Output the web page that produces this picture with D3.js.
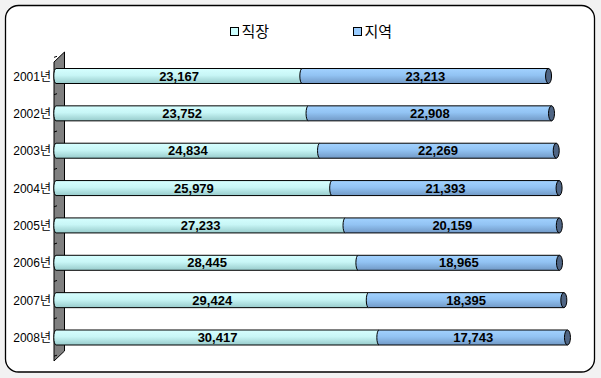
<!DOCTYPE html>
<html><head><meta charset="utf-8">
<script src="https://cdn.jsdelivr.net/npm/d3@7"></script>
<style>
html,body{margin:0;padding:0;background:#f2f2f2;}
svg{display:block;}
</style></head>
<body>
<svg id="chart" width="601" height="378"></svg>
<script>
const years = ["2001년","2002년","2003년","2004년","2005년","2006년","2007년","2008년"];
const seriesNames = ["직장","지역"];
const workplace = [23167,23752,24834,25979,27233,28445,29424,30417];
const regional = [23213,22908,22269,21393,20159,18965,18395,17743];

const svg = d3.select("#chart");
const defs = svg.append("defs");
function grad(id, stops){
  const g = defs.append("linearGradient").attr("id",id).attr("x1",0).attr("y1",0).attr("x2",0).attr("y2",1);
  stops.forEach(s=>g.append("stop").attr("offset",s[0]).attr("stop-color",s[1]));
}
grad("gW",[[0,"#d6ffff"],[0.45,"#c8f6f6"],[1,"#97cbcb"]]);
grad("gR",[[0,"#a2d2ff"],[0.45,"#92c3f3"],[1,"#7199c6"]]);
const fills = ["url(#gW)","url(#gR)"];
const legendFills = ["#ccffff","#99ccff"];

// frame
svg.append("rect").attr("x",5.5).attr("y",5.5).attr("width",589).attr("height",366.5)
  .attr("rx",13).attr("fill","#fff").attr("stroke","#000").attr("stroke-width",1.3);

const x = d3.scaleLinear().domain([0,50000]).range([56,587]);
const y = d3.scalePoint().domain(years).range([76,337.5]);
const step = y.step();
const bh = 15;

// wall
const wallPts = [[54,62],[64.5,52],[64.5,351],[54,361]];
svg.append("path").attr("d", d3.line()(wallPts)+"Z").attr("fill","#808080").attr("stroke","#000").attr("stroke-width",1);
// ticks at category boundaries
const bounds = [y(years[0])-step/2].concat(years.map(d=>y(d)+step/2));
svg.selectAll("line.tick").data(bounds).enter().append("line")
  .attr("x1",54).attr("x2",57).attr("y1",d=>d+(54-54)).attr("y2",d=>d-1)
  .attr("stroke","#000").attr("stroke-width",1);

// y labels
svg.selectAll("text.ylab").data(years).enter().append("text")
  .attr("x",51).attr("y",d=>y(d)+4.5).attr("text-anchor","end")
  .attr("font-family","'Liberation Sans','Noto Sans CJK KR',sans-serif").attr("font-size",12).attr("fill","#000")
  .text(d=>d);

// bars
const rows = years.map((yr,i)=>({yr, vals:[workplace[i],regional[i]]}));
const rx = 2.2;
rows.forEach(r=>{
  const cy = y(r.yr), top = cy-bh/2, bot = cy+bh/2;
  let acc = 0;
  r.vals.forEach((v,k)=>{
    const xa = x(acc), xb = x(acc+v);
    acc += v;
    const d = `M${xa},${top} L${xb},${top} L${xb},${bot} L${xa},${bot} A${rx},${bh/2} 0 0 1 ${xa},${top} Z`;
    svg.append("path").attr("d",d).attr("fill",fills[k]).attr("stroke","#000").attr("stroke-width",1);
    svg.append("text").attr("x",(xa+xb)/2).attr("y",cy+4.6).attr("text-anchor","middle")
      .attr("font-family","'Liberation Sans',Arial,sans-serif").attr("font-weight","bold").attr("font-size",13)
      .attr("fill","#000").text(d3.format(",")(v));
    if(k===r.vals.length-1){
      svg.append("ellipse").attr("cx",xb).attr("cy",cy).attr("rx",3).attr("ry",bh/2)
        .attr("fill","#4f6584").attr("stroke","#000").attr("stroke-width",1);
    }
  });
});

// legend
const lg = svg.append("g");
const lx = [230,353];
seriesNames.forEach((n,i)=>{
  lg.append("rect").attr("x",lx[i]+0.5).attr("y",27.5).attr("width",8).attr("height",8)
    .attr("fill",legendFills[i]).attr("stroke","#000").attr("stroke-width",1);
  lg.append("text").attr("x",lx[i]+11.5).attr("y",37).attr("font-family","'Noto Sans CJK KR',sans-serif")
    .attr("font-size",15).attr("fill","#000").text(n);
});
</script>
</body></html>
